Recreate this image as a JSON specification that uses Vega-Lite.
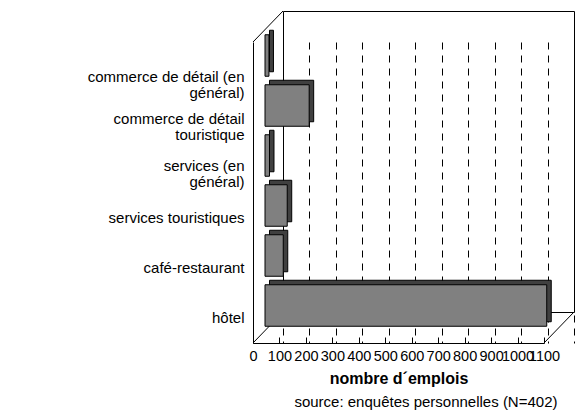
{
  "$schema": "https://vega.github.io/schema/vega-lite/v6.json",
  "width": 291,
  "height": 301,
  "autosize": {"type": "none"},
  "padding": {"left": 283, "top": 11, "right": 3, "bottom": 100},
  "config": {
    "font": "Liberation Sans",
    "view": {"stroke": "black", "strokeWidth": 1},
    "axis": {"labelColor": "black", "titleColor": "black", "domainColor": "black", "tickColor": "black"},
    "axisX": {
      "orient": "bottom",
      "offset": 31,
      "position": -30,
      "tickCount": 11,
      "format": "d",
      "grid": true,
      "gridColor": "black",
      "gridDash": [7, 6],
      "gridWidth": 1,
      "gridOpacity": 1,
      "domain": true,
      "domainWidth": 1,
      "ticks": true,
      "tickSize": -6,
      "tickWidth": 1,
      "labelPadding": 12,
      "labelFontSize": 14.5,
      "labelFont": "Liberation Sans",
      "labelOverlap": false,
      "labelFlush": false,
      "labelBaseline": "top",
      "titleFont": "Liberation Sans",
      "titleFontSize": 16,
      "titleFontWeight": "bold",
      "titlePadding": 8
    }
  },
  "title": {
    "text": "source: enquêtes personnelles (N=402)",
    "orient": "bottom",
    "anchor": "end",
    "font": "Liberation Sans",
    "fontSize": 15,
    "fontWeight": "normal",
    "color": "black",
    "offset": 8,
    "dx": -17
  },
  "data": {
    "values": [
      {"secteur": "commerce de détail (en général)", "emplois": 15},
      {"secteur": "commerce de détail touristique", "emplois": 167},
      {"secteur": "services (en général)", "emplois": 17},
      {"secteur": "services touristiques", "emplois": 84},
      {"secteur": "café-restaurant", "emplois": 69},
      {"secteur": "hôtel", "emplois": 1065}
    ]
  },
  "layer": [
    {
      "data": {"values": [{}]},
      "mark": {"type": "rule", "color": "black", "strokeWidth": 1, "x2Offset": -30, "y2Offset": 31},
      "encoding": {
        "x": {"datum": 0, "type": "quantitative", "title": "nombre d´emplois"},
        "x2": {"datum": 0},
        "y": {"datum": 1, "type": "quantitative", "scale": {"domain": [0, 1]}, "axis": null},
        "y2": {"datum": 1}
      }
    },
    {
      "data": {"values": [{}]},
      "mark": {"type": "rule", "color": "black", "strokeWidth": 1, "x2Offset": -30, "y2Offset": 31},
      "encoding": {
        "x": {"datum": 0, "type": "quantitative", "title": "nombre d´emplois"},
        "x2": {"datum": 0},
        "y": {"datum": 0, "type": "quantitative", "scale": {"domain": [0, 1]}, "axis": null},
        "y2": {"datum": 0}
      }
    },
    {
      "data": {"values": [{}]},
      "mark": {"type": "rule", "color": "black", "strokeWidth": 1, "x2Offset": -30, "y2Offset": 31},
      "encoding": {
        "x": {"datum": 1100, "type": "quantitative", "title": "nombre d´emplois"},
        "x2": {"datum": 1100},
        "y": {"datum": 0, "type": "quantitative", "scale": {"domain": [0, 1]}, "axis": null},
        "y2": {"datum": 0}
      }
    },
    {
      "encoding": {
        "y": {
          "field": "secteur",
          "type": "nominal",
          "sort": null,
          "scale": {"paddingInner": 0.17, "paddingOuter": 0.095},
          "axis": {
            "title": null,
            "orient": "left",
            "offset": 30,
            "position": 31,
            "domain": true,
            "domainColor": "black",
            "domainWidth": 1,
            "ticks": false,
            "labelPadding": 9,
            "labelFontSize": 15,
            "labelFont": "Liberation Sans",
            "labelAlign": "right",
            "labelBaseline": "middle",
            "labelLineHeight": 16,
            "labelLimit": 300,
            "labelOffset": {
              "condition": [
                {"test": "datum.value === 'commerce de détail (en général)'", "value": 9},
                {"test": "datum.value === 'commerce de détail touristique'", "value": 1},
                {"test": "datum.value === 'services (en général)'", "value": -2}
              ],
              "value": 0
            },
            "labelExpr": "datum.label == 'commerce de détail (en général)' ? ['commerce de détail (en', 'général)'] : datum.label == 'commerce de détail touristique' ? ['commerce de détail', 'touristique'] : datum.label == 'services (en général)' ? ['services (en', 'général)'] : datum.label"
          }
        },
        "x": {
          "field": "emplois",
          "type": "quantitative",
          "title": "nombre d´emplois",
          "scale": {"domain": [0, 1100], "nice": false, "zero": true}
        }
      },
      "layer": [
        {"mark": {"type": "bar", "fill": "#404040", "stroke": "black", "strokeWidth": 1, "xOffset": -13.5, "x2Offset": -13.5, "yOffset": 14.5, "y2Offset": 14.5}},
        {"mark": {"type": "bar", "fill": "#808080", "stroke": "black", "strokeWidth": 1, "xOffset": -18, "x2Offset": -18, "yOffset": 19, "y2Offset": 19}}
      ]
    }
  ],
  "resolve": {"scale": {"y": "independent"}}
}
